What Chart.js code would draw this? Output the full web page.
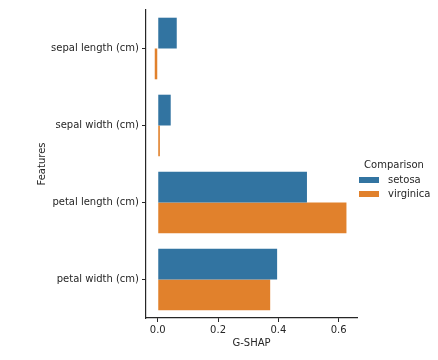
<!DOCTYPE html>
<html>
<head>
<meta charset="utf-8">
<script src="https://cdn.jsdelivr.net/npm/chart.js@4/dist/chart.umd.min.js"></script>
<style>
  body { margin: 0; background: #fff; }
  canvas { display: block; }
</style>
</head>
<body>
<canvas id="chartCanvas" width="438" height="360"></canvas>
<script>
const categories = ["sepal length (cm)", "sepal width (cm)", "petal length (cm)", "petal width (cm)"];
const setosa = [0.063, 0.043, 0.495, 0.396];
const virginica = [-0.010, 0.007, 0.626, 0.373];
const xTicks = [0, 0.2, 0.4, 0.6];
const legendTitle = "Comparison";

const FONT = "'DejaVu Sans', sans-serif";
const INK = "#262626";

// seaborn-like legend on the right, drawn from the datasets
const sideLegend = {
  id: "sideLegend",
  afterDraw(chart) {
    const ctx = chart.ctx;
    ctx.save();
    ctx.font = "10px " + FONT;
    ctx.fillStyle = INK;
    ctx.textBaseline = "middle";
    ctx.textAlign = "center";
    ctx.fillText(legendTitle, 394, 165);
    ctx.textAlign = "left";
    chart.data.datasets.forEach((ds, i) => {
      const y = 180 + i * 14;
      ctx.fillStyle = ds.backgroundColor;
      ctx.fillRect(359, y - 3, 20, 6);
      ctx.fillStyle = INK;
      ctx.fillText(ds.label, 388, y);
    });
    ctx.restore();
  }
};

const ctx = document.getElementById("chartCanvas").getContext("2d");
const chart = new Chart(ctx, {
  type: "bar",
  data: {
    labels: categories,
    datasets: [
      { label: "setosa", data: setosa, backgroundColor: "#3274a1", borderWidth: 0 },
      { label: "virginica", data: virginica, backgroundColor: "#e1812c", borderWidth: 0 }
    ]
  },
  options: {
    indexAxis: "y",
    responsive: false,
    animation: false,
    devicePixelRatio: 1,
    categoryPercentage: 0.8,
    barPercentage: 1.0,
    layout: { padding: { top: 10, right: 81, bottom: 0, left: 0 } },
    plugins: {
      legend: { display: false },
      tooltip: { enabled: false }
    },
    scales: {
      x: {
        type: "linear",
        min: -0.039,
        max: 0.661,
        afterBuildTicks: scale => { scale.ticks = xTicks.map(v => ({ value: v })); },
        afterFit: scale => { scale.height = 42; },
        ticks: {
          color: INK,
          font: { family: FONT, size: 10 },
          padding: 2,
          maxRotation: 0,
          callback: v => v.toFixed(1)
        },
        grid: { drawOnChartArea: false, drawTicks: true, tickLength: 4, color: INK, tickWidth: 1 },
        border: { display: true, color: INK, width: 1.2 },
        title: {
          display: true,
          text: "G-SHAP",
          color: INK,
          font: { family: FONT, size: 10 },
          padding: { top: 0, bottom: 11 }
        }
      },
      y: {
        offset: true,
        afterFit: scale => { scale.width = 146; },
        ticks: {
          color: INK,
          font: { family: FONT, size: 10 },
          padding: 3
        },
        grid: { drawOnChartArea: false, drawTicks: true, tickLength: 4, color: INK, tickWidth: 1, offset: false },
        border: { display: true, color: INK, width: 1.2 },
        title: {
          display: true,
          text: "Features",
          color: INK,
          font: { family: FONT, size: 10 },
          padding: { top: 36, bottom: 0 }
        }
      }
    }
  },
  plugins: [sideLegend]
});
</script>
</body>
</html>
